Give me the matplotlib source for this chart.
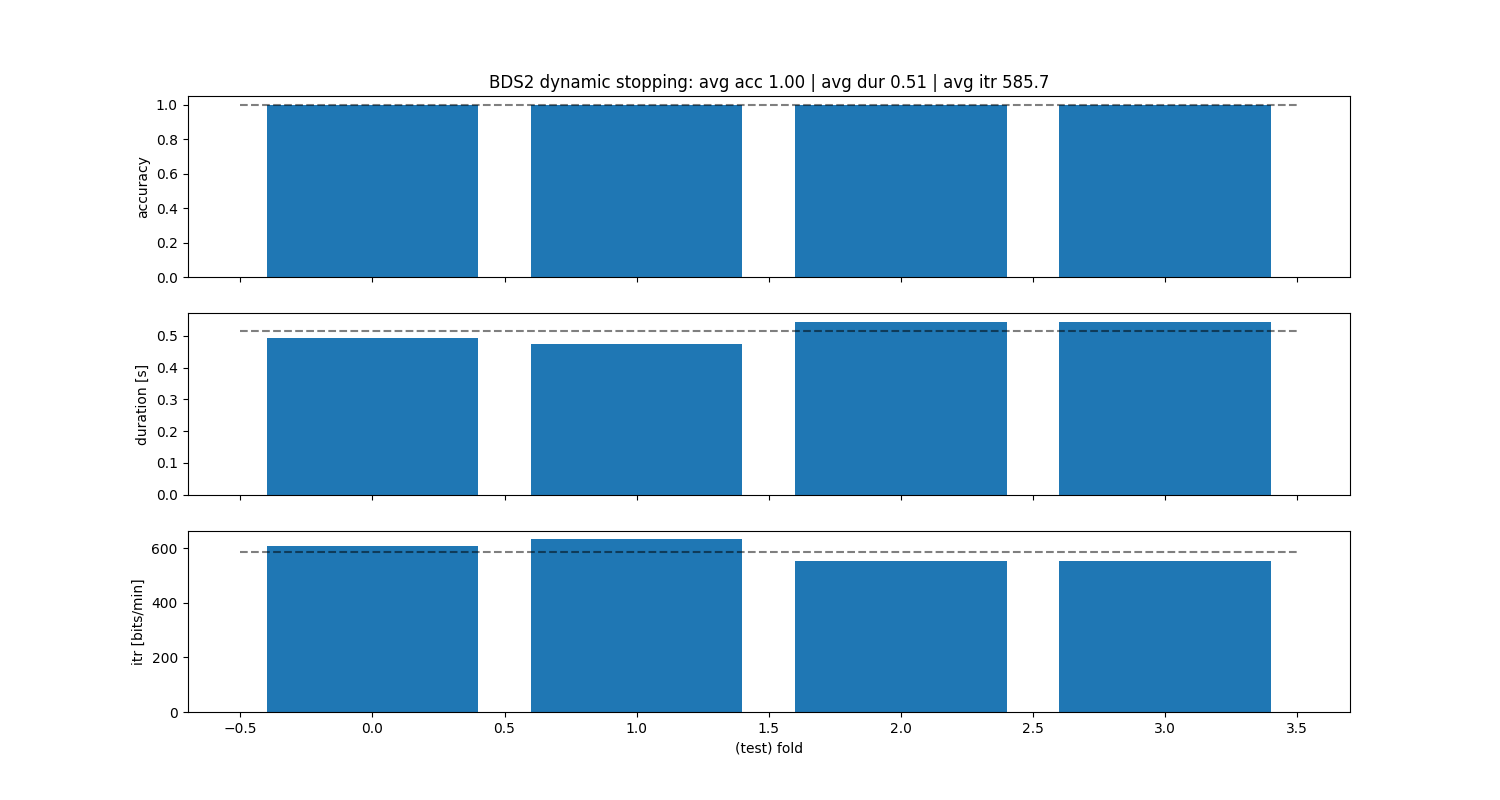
import matplotlib
matplotlib.use("Agg")
import matplotlib.pyplot as plt
import numpy as np

# per-fold results
folds = [0, 1, 2, 3]
accuracy = [1.0, 1.0, 1.0, 1.0]
duration = [0.4933, 0.4750, 0.5433, 0.5433]
itr = [608.1, 631.6, 552.2, 552.2]

avg_acc = 1.00
avg_dur = 0.514
avg_itr = 585.7

title = "BDS2 dynamic stopping: avg acc {:.2f} | avg dur {:.2f} | avg itr {:.1f}".format(avg_acc, avg_dur, avg_itr)

fig, axes = plt.subplots(3, 1, figsize=(15, 8), sharex=True)

axes[0].bar(folds, accuracy)
axes[0].hlines(avg_acc, -0.5, len(folds) - 0.5, linestyle="--", color="k", alpha=0.5)
axes[0].set_ylabel("accuracy")
axes[0].set_title(title)

axes[1].bar(folds, duration)
axes[1].hlines(avg_dur, -0.5, len(folds) - 0.5, linestyle="--", color="k", alpha=0.5)
axes[1].set_ylabel("duration [s]")

axes[2].bar(folds, itr)
axes[2].hlines(avg_itr, -0.5, len(folds) - 0.5, linestyle="--", color="k", alpha=0.5)
axes[2].set_ylabel("itr [bits/min]")
axes[2].set_xlabel("(test) fold")

plt.savefig("out.png", dpi=100)
